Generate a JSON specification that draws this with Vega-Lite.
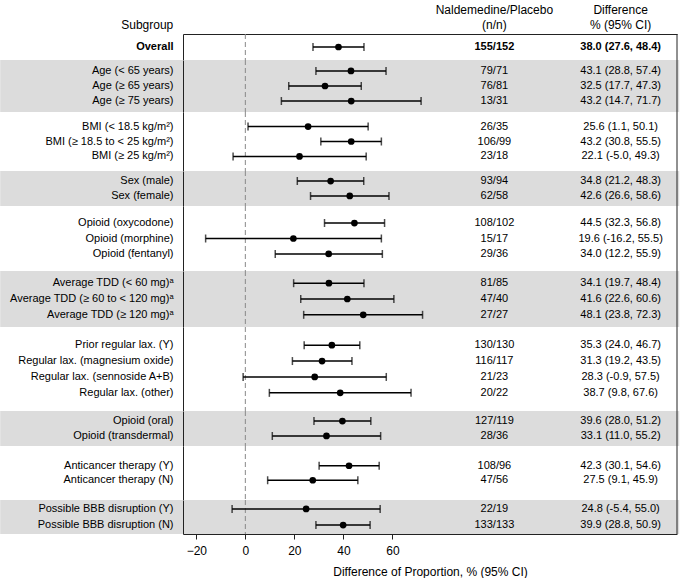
{
"$schema":"https://vega.github.io/schema/vega-lite/v6.json",
"padding":0,
"spacing":0,
"bounds":"flush",
"resolve":{"scale":{"x":"independent","y":"independent"}},
"config":{"view":{"stroke":null},"font":"Liberation Sans","axis":{"labelFont":"Liberation Sans","titleFont":"Liberation Sans","grid":false},"axisY":{"ticks":false,"labelPadding":10,"labelFontSize":11,"labelColor":"black","labelLimit":400,"domainColor":"#222"}},
"datasets":{"rows":[
{"g":"overall","label":"Overall","nn":"155/152","est":38.0,"lo":27.6,"hi":48.4,"ci":"38.0 (27.6, 48.4)"},
{"g":"age","label":"Age (< 65 years)","nn":"79/71","est":43.1,"lo":28.8,"hi":57.4,"ci":"43.1 (28.8, 57.4)"},
{"g":"age","label":"Age (≥ 65 years)","nn":"76/81","est":32.5,"lo":17.7,"hi":47.3,"ci":"32.5 (17.7, 47.3)"},
{"g":"age","label":"Age (≥ 75 years)","nn":"13/31","est":43.2,"lo":14.7,"hi":71.7,"ci":"43.2 (14.7, 71.7)"},
{"g":"bmi","label":"BMI (< 18.5 kg/m²)","nn":"26/35","est":25.6,"lo":1.1,"hi":50.1,"ci":"25.6 (1.1, 50.1)"},
{"g":"bmi","label":"BMI (≥ 18.5 to < 25 kg/m²)","nn":"106/99","est":43.2,"lo":30.8,"hi":55.5,"ci":"43.2 (30.8, 55.5)"},
{"g":"bmi","label":"BMI (≥ 25 kg/m²)","nn":"23/18","est":22.1,"lo":-5.0,"hi":49.3,"ci":"22.1 (-5.0, 49.3)"},
{"g":"sex","label":"Sex (male)","nn":"93/94","est":34.8,"lo":21.2,"hi":48.3,"ci":"34.8 (21.2, 48.3)"},
{"g":"sex","label":"Sex (female)","nn":"62/58","est":42.6,"lo":26.6,"hi":58.6,"ci":"42.6 (26.6, 58.6)"},
{"g":"opioid","label":"Opioid (oxycodone)","nn":"108/102","est":44.5,"lo":32.3,"hi":56.8,"ci":"44.5 (32.3, 56.8)"},
{"g":"opioid","label":"Opioid (morphine)","nn":"15/17","est":19.6,"lo":-16.2,"hi":55.5,"ci":"19.6 (-16.2, 55.5)"},
{"g":"opioid","label":"Opioid (fentanyl)","nn":"29/36","est":34.0,"lo":12.2,"hi":55.9,"ci":"34.0 (12.2, 55.9)"},
{"g":"tdd","label":"Average TDD (< 60 mg)ᵃ","nn":"81/85","est":34.1,"lo":19.7,"hi":48.4,"ci":"34.1 (19.7, 48.4)"},
{"g":"tdd","label":"Average TDD (≥ 60 to < 120 mg)ᵃ","nn":"47/40","est":41.6,"lo":22.6,"hi":60.6,"ci":"41.6 (22.6, 60.6)"},
{"g":"tdd","label":"Average TDD (≥ 120 mg)ᵃ","nn":"27/27","est":48.1,"lo":23.8,"hi":72.3,"ci":"48.1 (23.8, 72.3)"},
{"g":"lax","label":"Prior regular lax. (Y)","nn":"130/130","est":35.3,"lo":24.0,"hi":46.7,"ci":"35.3 (24.0, 46.7)"},
{"g":"lax","label":"Regular lax. (magnesium oxide)","nn":"116/117","est":31.3,"lo":19.2,"hi":43.5,"ci":"31.3 (19.2, 43.5)"},
{"g":"lax","label":"Regular lax. (sennoside A+B)","nn":"21/23","est":28.3,"lo":-0.9,"hi":57.5,"ci":"28.3 (-0.9, 57.5)"},
{"g":"lax","label":"Regular lax. (other)","nn":"20/22","est":38.7,"lo":9.8,"hi":67.6,"ci":"38.7 (9.8, 67.6)"},
{"g":"route","label":"Opioid (oral)","nn":"127/119","est":39.6,"lo":28.0,"hi":51.2,"ci":"39.6 (28.0, 51.2)"},
{"g":"route","label":"Opioid (transdermal)","nn":"28/36","est":33.1,"lo":11.0,"hi":55.2,"ci":"33.1 (11.0, 55.2)"},
{"g":"anti","label":"Anticancer therapy (Y)","nn":"108/96","est":42.3,"lo":30.1,"hi":54.6,"ci":"42.3 (30.1, 54.6)"},
{"g":"anti","label":"Anticancer therapy (N)","nn":"47/56","est":27.5,"lo":9.1,"hi":45.9,"ci":"27.5 (9.1, 45.9)"},
{"g":"bbb","label":"Possible BBB disruption (Y)","nn":"22/19","est":24.8,"lo":-5.4,"hi":55.0,"ci":"24.8 (-5.4, 55.0)"},
{"g":"bbb","label":"Possible BBB disruption (N)","nn":"133/133","est":39.9,"lo":28.8,"hi":50.9,"ci":"39.9 (28.8, 50.9)"}
]},
"vconcat":[
{"width":494,"height":34,"data":{"values":[{}]},"layer":[
 {"mark":{"type":"text","fontSize":12,"lineHeight":15,"dy":-7,"color":"black","text":["Naldemedine/Placebo","(n/n)"]},"encoding":{"x":{"datum":101.6,"type":"quantitative","scale":{"domain":[-25.43,176.1],"nice":false,"zero":false},"axis":null}}},
 {"mark":{"type":"text","fontSize":12,"lineHeight":15,"dy":-7,"color":"black","text":["Difference","% (95% CI)"]},"encoding":{"x":{"datum":153.1,"type":"quantitative","scale":{"domain":[-25.43,176.1],"nice":false,"zero":false},"axis":null}}},
 {"mark":{"type":"text","fontSize":12,"color":"black","align":"right","dy":8,"text":"Subgroup"},"encoding":{"x":{"datum":-29.4,"type":"quantitative","scale":{"domain":[-25.43,176.1],"nice":false,"zero":false},"axis":null}}}
]},
{"width":494,"height":26,"data":{"name":"rows"},"transform":[{"filter":"datum.g=='overall'"}],"layer":[
 {"data":{"values":[{}]},"mark":{"type":"rule","color":"#888","strokeDash":[5,3]},"encoding":{"x":{"datum":0,"type":"quantitative","scale":{"domain":[-25.43,176.1],"nice":false,"zero":false},"axis":{"orient":"top","ticks":false,"labels":false,"title":null,"domainColor":"#222","grid":false}}}},
 {"data":{"values":[{}]},"mark":{"type":"rule","color":"#222"},"encoding":{"x":{"datum":176.1,"type":"quantitative","scale":{"domain":[-25.43,176.1],"nice":false,"zero":false},"axis":{"orient":"top","ticks":false,"labels":false,"title":null,"domainColor":"#222","grid":false}}}},
 {"mark":{"type":"rule","color":"black","strokeWidth":1.5},"encoding":{"y":{"field":"label","type":"nominal","sort":null,"title":null,"scale":{"paddingInner":0,"paddingOuter":0},"axis":{"labelFontWeight":"bold"}},"x":{"field":"lo","type":"quantitative","scale":{"domain":[-25.43,176.1],"nice":false,"zero":false},"axis":{"orient":"top","ticks":false,"labels":false,"title":null,"domainColor":"#222","grid":false}},"x2":{"field":"hi"}}},
 {"mark":{"type":"tick","color":"black","thickness":1.5,"size":8},"encoding":{"y":{"field":"label","type":"nominal","sort":null,"title":null,"axis":{"labelFontWeight":"bold"}},"x":{"field":"lo","type":"quantitative","scale":{"domain":[-25.43,176.1],"nice":false,"zero":false},"axis":{"orient":"top","ticks":false,"labels":false,"title":null,"domainColor":"#222","grid":false}}}},
 {"mark":{"type":"tick","color":"black","thickness":1.5,"size":8},"encoding":{"y":{"field":"label","type":"nominal","sort":null,"title":null,"axis":{"labelFontWeight":"bold"}},"x":{"field":"hi","type":"quantitative","scale":{"domain":[-25.43,176.1],"nice":false,"zero":false},"axis":{"orient":"top","ticks":false,"labels":false,"title":null,"domainColor":"#222","grid":false}}}},
 {"mark":{"type":"point","filled":true,"color":"black","opacity":1,"size":45},"encoding":{"y":{"field":"label","type":"nominal","sort":null,"title":null,"axis":{"labelFontWeight":"bold"}},"x":{"field":"est","type":"quantitative","scale":{"domain":[-25.43,176.1],"nice":false,"zero":false},"axis":{"orient":"top","ticks":false,"labels":false,"title":null,"domainColor":"#222","grid":false}}}},
 {"mark":{"type":"text","fontSize":11,"fontWeight":"bold","color":"black"},"encoding":{"y":{"field":"label","type":"nominal","sort":null,"title":null,"axis":{"labelFontWeight":"bold"}},"x":{"datum":101.6,"type":"quantitative","scale":{"domain":[-25.43,176.1],"nice":false,"zero":false},"axis":{"orient":"top","ticks":false,"labels":false,"title":null,"domainColor":"#222","grid":false}},"text":{"field":"nn"}}},
 {"mark":{"type":"text","fontSize":11,"fontWeight":"bold","color":"black"},"encoding":{"y":{"field":"label","type":"nominal","sort":null,"title":null,"axis":{"labelFontWeight":"bold"}},"x":{"datum":153.1,"type":"quantitative","scale":{"domain":[-25.43,176.1],"nice":false,"zero":false},"axis":{"orient":"top","ticks":false,"labels":false,"title":null,"domainColor":"#222","grid":false}},"text":{"field":"ci"}}}
]},
{"width":494,"height":52,"data":{"name":"rows"},"transform":[{"filter":"datum.g=='age'"}],"layer":[
 {"data":{"values":[{}]},"mark":{"type":"rect","color":"#dcdcdc"},"encoding":{"x":{"datum":-100,"type":"quantitative","scale":{"domain":[-25.43,176.1],"nice":false,"zero":false},"axis":null},"x2":{"datum":177}}},
 {"data":{"values":[{}]},"mark":{"type":"rule","color":"#888","strokeDash":[5,3]},"encoding":{"x":{"datum":0,"type":"quantitative","scale":{"domain":[-25.43,176.1],"nice":false,"zero":false},"axis":null}}},
 {"data":{"values":[{}]},"mark":{"type":"rule","color":"#222"},"encoding":{"x":{"datum":176.1,"type":"quantitative","scale":{"domain":[-25.43,176.1],"nice":false,"zero":false},"axis":null}}},
 {"mark":{"type":"rule","color":"black","strokeWidth":1.5},"encoding":{"y":{"field":"label","type":"nominal","sort":null,"title":null,"axis":{"zindex":1},"scale":{"paddingInner":0,"paddingOuter":0.23}},"x":{"field":"lo","type":"quantitative","scale":{"domain":[-25.43,176.1],"nice":false,"zero":false},"axis":null},"x2":{"field":"hi"}}},
 {"mark":{"type":"tick","color":"black","thickness":1.5,"size":8},"encoding":{"y":{"field":"label","type":"nominal","sort":null,"title":null,"axis":{"zindex":1}},"x":{"field":"lo","type":"quantitative","scale":{"domain":[-25.43,176.1],"nice":false,"zero":false},"axis":null}}},
 {"mark":{"type":"tick","color":"black","thickness":1.5,"size":8},"encoding":{"y":{"field":"label","type":"nominal","sort":null,"title":null,"axis":{"zindex":1}},"x":{"field":"hi","type":"quantitative","scale":{"domain":[-25.43,176.1],"nice":false,"zero":false},"axis":null}}},
 {"mark":{"type":"point","filled":true,"color":"black","opacity":1,"size":45},"encoding":{"y":{"field":"label","type":"nominal","sort":null,"title":null,"axis":{"zindex":1}},"x":{"field":"est","type":"quantitative","scale":{"domain":[-25.43,176.1],"nice":false,"zero":false},"axis":null}}},
 {"mark":{"type":"text","fontSize":11,"color":"black"},"encoding":{"y":{"field":"label","type":"nominal","sort":null,"title":null,"axis":{"zindex":1}},"x":{"datum":101.6,"type":"quantitative","scale":{"domain":[-25.43,176.1],"nice":false,"zero":false},"axis":null},"text":{"field":"nn"}}},
 {"mark":{"type":"text","fontSize":11,"color":"black"},"encoding":{"y":{"field":"label","type":"nominal","sort":null,"title":null,"axis":{"zindex":1}},"x":{"datum":153.1,"type":"quantitative","scale":{"domain":[-25.43,176.1],"nice":false,"zero":false},"axis":null},"text":{"field":"ci"}}}
]},
{"width":494,"height":59,"data":{"name":"rows"},"transform":[{"filter":"datum.g=='bmi'"}],"layer":[
 {"data":{"values":[{}]},"mark":{"type":"rule","color":"#888","strokeDash":[5,3]},"encoding":{"x":{"datum":0,"type":"quantitative","scale":{"domain":[-25.43,176.1],"nice":false,"zero":false},"axis":null}}},
 {"data":{"values":[{}]},"mark":{"type":"rule","color":"#222"},"encoding":{"x":{"datum":176.1,"type":"quantitative","scale":{"domain":[-25.43,176.1],"nice":false,"zero":false},"axis":null}}},
 {"mark":{"type":"rule","color":"black","strokeWidth":1.5},"encoding":{"y":{"field":"label","type":"nominal","sort":null,"title":null,"scale":{"paddingInner":0,"paddingOuter":0.48}},"x":{"field":"lo","type":"quantitative","scale":{"domain":[-25.43,176.1],"nice":false,"zero":false},"axis":null},"x2":{"field":"hi"}}},
 {"mark":{"type":"tick","color":"black","thickness":1.5,"size":8},"encoding":{"y":{"field":"label","type":"nominal","sort":null,"title":null},"x":{"field":"lo","type":"quantitative","scale":{"domain":[-25.43,176.1],"nice":false,"zero":false},"axis":null}}},
 {"mark":{"type":"tick","color":"black","thickness":1.5,"size":8},"encoding":{"y":{"field":"label","type":"nominal","sort":null,"title":null},"x":{"field":"hi","type":"quantitative","scale":{"domain":[-25.43,176.1],"nice":false,"zero":false},"axis":null}}},
 {"mark":{"type":"point","filled":true,"color":"black","opacity":1,"size":45},"encoding":{"y":{"field":"label","type":"nominal","sort":null,"title":null},"x":{"field":"est","type":"quantitative","scale":{"domain":[-25.43,176.1],"nice":false,"zero":false},"axis":null}}},
 {"mark":{"type":"text","fontSize":11,"color":"black"},"encoding":{"y":{"field":"label","type":"nominal","sort":null,"title":null},"x":{"datum":101.6,"type":"quantitative","scale":{"domain":[-25.43,176.1],"nice":false,"zero":false},"axis":null},"text":{"field":"nn"}}},
 {"mark":{"type":"text","fontSize":11,"color":"black"},"encoding":{"y":{"field":"label","type":"nominal","sort":null,"title":null},"x":{"datum":153.1,"type":"quantitative","scale":{"domain":[-25.43,176.1],"nice":false,"zero":false},"axis":null},"text":{"field":"ci"}}}
]},
{"width":494,"height":35,"data":{"name":"rows"},"transform":[{"filter":"datum.g=='sex'"}],"layer":[
 {"data":{"values":[{}]},"mark":{"type":"rect","color":"#dcdcdc"},"encoding":{"x":{"datum":-100,"type":"quantitative","scale":{"domain":[-25.43,176.1],"nice":false,"zero":false},"axis":null},"x2":{"datum":177}}},
 {"data":{"values":[{}]},"mark":{"type":"rule","color":"#888","strokeDash":[5,3]},"encoding":{"x":{"datum":0,"type":"quantitative","scale":{"domain":[-25.43,176.1],"nice":false,"zero":false},"axis":null}}},
 {"data":{"values":[{}]},"mark":{"type":"rule","color":"#222"},"encoding":{"x":{"datum":176.1,"type":"quantitative","scale":{"domain":[-25.43,176.1],"nice":false,"zero":false},"axis":null}}},
 {"mark":{"type":"rule","color":"black","strokeWidth":1.5},"encoding":{"y":{"field":"label","type":"nominal","sort":null,"title":null,"axis":{"zindex":1},"scale":{"paddingInner":0,"paddingOuter":0.17}},"x":{"field":"lo","type":"quantitative","scale":{"domain":[-25.43,176.1],"nice":false,"zero":false},"axis":null},"x2":{"field":"hi"}}},
 {"mark":{"type":"tick","color":"black","thickness":1.5,"size":8},"encoding":{"y":{"field":"label","type":"nominal","sort":null,"title":null,"axis":{"zindex":1}},"x":{"field":"lo","type":"quantitative","scale":{"domain":[-25.43,176.1],"nice":false,"zero":false},"axis":null}}},
 {"mark":{"type":"tick","color":"black","thickness":1.5,"size":8},"encoding":{"y":{"field":"label","type":"nominal","sort":null,"title":null,"axis":{"zindex":1}},"x":{"field":"hi","type":"quantitative","scale":{"domain":[-25.43,176.1],"nice":false,"zero":false},"axis":null}}},
 {"mark":{"type":"point","filled":true,"color":"black","opacity":1,"size":45},"encoding":{"y":{"field":"label","type":"nominal","sort":null,"title":null,"axis":{"zindex":1}},"x":{"field":"est","type":"quantitative","scale":{"domain":[-25.43,176.1],"nice":false,"zero":false},"axis":null}}},
 {"mark":{"type":"text","fontSize":11,"color":"black"},"encoding":{"y":{"field":"label","type":"nominal","sort":null,"title":null,"axis":{"zindex":1}},"x":{"datum":101.6,"type":"quantitative","scale":{"domain":[-25.43,176.1],"nice":false,"zero":false},"axis":null},"text":{"field":"nn"}}},
 {"mark":{"type":"text","fontSize":11,"color":"black"},"encoding":{"y":{"field":"label","type":"nominal","sort":null,"title":null,"axis":{"zindex":1}},"x":{"datum":153.1,"type":"quantitative","scale":{"domain":[-25.43,176.1],"nice":false,"zero":false},"axis":null},"text":{"field":"ci"}}}
]},
{"width":494,"height":65,"data":{"name":"rows"},"transform":[{"filter":"datum.g=='opioid'"}],"layer":[
 {"data":{"values":[{}]},"mark":{"type":"rule","color":"#888","strokeDash":[5,3]},"encoding":{"x":{"datum":0,"type":"quantitative","scale":{"domain":[-25.43,176.1],"nice":false,"zero":false},"axis":null}}},
 {"data":{"values":[{}]},"mark":{"type":"rule","color":"#222"},"encoding":{"x":{"datum":176.1,"type":"quantitative","scale":{"domain":[-25.43,176.1],"nice":false,"zero":false},"axis":null}}},
 {"mark":{"type":"rule","color":"black","strokeWidth":1.5},"encoding":{"y":{"field":"label","type":"nominal","sort":null,"title":null,"scale":{"paddingInner":0,"paddingOuter":0.6}},"x":{"field":"lo","type":"quantitative","scale":{"domain":[-25.43,176.1],"nice":false,"zero":false},"axis":null},"x2":{"field":"hi"}}},
 {"mark":{"type":"tick","color":"black","thickness":1.5,"size":8},"encoding":{"y":{"field":"label","type":"nominal","sort":null,"title":null},"x":{"field":"lo","type":"quantitative","scale":{"domain":[-25.43,176.1],"nice":false,"zero":false},"axis":null}}},
 {"mark":{"type":"tick","color":"black","thickness":1.5,"size":8},"encoding":{"y":{"field":"label","type":"nominal","sort":null,"title":null},"x":{"field":"hi","type":"quantitative","scale":{"domain":[-25.43,176.1],"nice":false,"zero":false},"axis":null}}},
 {"mark":{"type":"point","filled":true,"color":"black","opacity":1,"size":45},"encoding":{"y":{"field":"label","type":"nominal","sort":null,"title":null},"x":{"field":"est","type":"quantitative","scale":{"domain":[-25.43,176.1],"nice":false,"zero":false},"axis":null}}},
 {"mark":{"type":"text","fontSize":11,"color":"black"},"encoding":{"y":{"field":"label","type":"nominal","sort":null,"title":null},"x":{"datum":101.6,"type":"quantitative","scale":{"domain":[-25.43,176.1],"nice":false,"zero":false},"axis":null},"text":{"field":"nn"}}},
 {"mark":{"type":"text","fontSize":11,"color":"black"},"encoding":{"y":{"field":"label","type":"nominal","sort":null,"title":null},"x":{"datum":153.1,"type":"quantitative","scale":{"domain":[-25.43,176.1],"nice":false,"zero":false},"axis":null},"text":{"field":"ci"}}}
]},
{"width":494,"height":56,"data":{"name":"rows"},"transform":[{"filter":"datum.g=='tdd'"}],"layer":[
 {"data":{"values":[{}]},"mark":{"type":"rect","color":"#dcdcdc"},"encoding":{"x":{"datum":-100,"type":"quantitative","scale":{"domain":[-25.43,176.1],"nice":false,"zero":false},"axis":null},"x2":{"datum":177}}},
 {"data":{"values":[{}]},"mark":{"type":"rule","color":"#888","strokeDash":[5,3]},"encoding":{"x":{"datum":0,"type":"quantitative","scale":{"domain":[-25.43,176.1],"nice":false,"zero":false},"axis":null}}},
 {"data":{"values":[{}]},"mark":{"type":"rule","color":"#222"},"encoding":{"x":{"datum":176.1,"type":"quantitative","scale":{"domain":[-25.43,176.1],"nice":false,"zero":false},"axis":null}}},
 {"mark":{"type":"rule","color":"black","strokeWidth":1.5},"encoding":{"y":{"field":"label","type":"nominal","sort":null,"title":null,"axis":{"zindex":1},"scale":{"paddingInner":0,"paddingOuter":0.27}},"x":{"field":"lo","type":"quantitative","scale":{"domain":[-25.43,176.1],"nice":false,"zero":false},"axis":null},"x2":{"field":"hi"}}},
 {"mark":{"type":"tick","color":"black","thickness":1.5,"size":8},"encoding":{"y":{"field":"label","type":"nominal","sort":null,"title":null,"axis":{"zindex":1}},"x":{"field":"lo","type":"quantitative","scale":{"domain":[-25.43,176.1],"nice":false,"zero":false},"axis":null}}},
 {"mark":{"type":"tick","color":"black","thickness":1.5,"size":8},"encoding":{"y":{"field":"label","type":"nominal","sort":null,"title":null,"axis":{"zindex":1}},"x":{"field":"hi","type":"quantitative","scale":{"domain":[-25.43,176.1],"nice":false,"zero":false},"axis":null}}},
 {"mark":{"type":"point","filled":true,"color":"black","opacity":1,"size":45},"encoding":{"y":{"field":"label","type":"nominal","sort":null,"title":null,"axis":{"zindex":1}},"x":{"field":"est","type":"quantitative","scale":{"domain":[-25.43,176.1],"nice":false,"zero":false},"axis":null}}},
 {"mark":{"type":"text","fontSize":11,"color":"black"},"encoding":{"y":{"field":"label","type":"nominal","sort":null,"title":null,"axis":{"zindex":1}},"x":{"datum":101.6,"type":"quantitative","scale":{"domain":[-25.43,176.1],"nice":false,"zero":false},"axis":null},"text":{"field":"nn"}}},
 {"mark":{"type":"text","fontSize":11,"color":"black"},"encoding":{"y":{"field":"label","type":"nominal","sort":null,"title":null,"axis":{"zindex":1}},"x":{"datum":153.1,"type":"quantitative","scale":{"domain":[-25.43,176.1],"nice":false,"zero":false},"axis":null},"text":{"field":"ci"}}}
]},
{"width":494,"height":84,"data":{"name":"rows"},"transform":[{"filter":"datum.g=='lax'"}],"layer":[
 {"data":{"values":[{}]},"mark":{"type":"rule","color":"#888","strokeDash":[5,3]},"encoding":{"x":{"datum":0,"type":"quantitative","scale":{"domain":[-25.43,176.1],"nice":false,"zero":false},"axis":null}}},
 {"data":{"values":[{}]},"mark":{"type":"rule","color":"#222"},"encoding":{"x":{"datum":176.1,"type":"quantitative","scale":{"domain":[-25.43,176.1],"nice":false,"zero":false},"axis":null}}},
 {"mark":{"type":"rule","color":"black","strokeWidth":1.5},"encoding":{"y":{"field":"label","type":"nominal","sort":null,"title":null,"scale":{"paddingInner":0,"paddingOuter":0.64}},"x":{"field":"lo","type":"quantitative","scale":{"domain":[-25.43,176.1],"nice":false,"zero":false},"axis":null},"x2":{"field":"hi"}}},
 {"mark":{"type":"tick","color":"black","thickness":1.5,"size":8},"encoding":{"y":{"field":"label","type":"nominal","sort":null,"title":null},"x":{"field":"lo","type":"quantitative","scale":{"domain":[-25.43,176.1],"nice":false,"zero":false},"axis":null}}},
 {"mark":{"type":"tick","color":"black","thickness":1.5,"size":8},"encoding":{"y":{"field":"label","type":"nominal","sort":null,"title":null},"x":{"field":"hi","type":"quantitative","scale":{"domain":[-25.43,176.1],"nice":false,"zero":false},"axis":null}}},
 {"mark":{"type":"point","filled":true,"color":"black","opacity":1,"size":45},"encoding":{"y":{"field":"label","type":"nominal","sort":null,"title":null},"x":{"field":"est","type":"quantitative","scale":{"domain":[-25.43,176.1],"nice":false,"zero":false},"axis":null}}},
 {"mark":{"type":"text","fontSize":11,"color":"black"},"encoding":{"y":{"field":"label","type":"nominal","sort":null,"title":null},"x":{"datum":101.6,"type":"quantitative","scale":{"domain":[-25.43,176.1],"nice":false,"zero":false},"axis":null},"text":{"field":"nn"}}},
 {"mark":{"type":"text","fontSize":11,"color":"black"},"encoding":{"y":{"field":"label","type":"nominal","sort":null,"title":null},"x":{"datum":153.1,"type":"quantitative","scale":{"domain":[-25.43,176.1],"nice":false,"zero":false},"axis":null},"text":{"field":"ci"}}}
]},
{"width":494,"height":35,"data":{"name":"rows"},"transform":[{"filter":"datum.g=='route'"}],"layer":[
 {"data":{"values":[{}]},"mark":{"type":"rect","color":"#dcdcdc"},"encoding":{"x":{"datum":-100,"type":"quantitative","scale":{"domain":[-25.43,176.1],"nice":false,"zero":false},"axis":null},"x2":{"datum":177}}},
 {"data":{"values":[{}]},"mark":{"type":"rule","color":"#888","strokeDash":[5,3]},"encoding":{"x":{"datum":0,"type":"quantitative","scale":{"domain":[-25.43,176.1],"nice":false,"zero":false},"axis":null}}},
 {"data":{"values":[{}]},"mark":{"type":"rule","color":"#222"},"encoding":{"x":{"datum":176.1,"type":"quantitative","scale":{"domain":[-25.43,176.1],"nice":false,"zero":false},"axis":null}}},
 {"mark":{"type":"rule","color":"black","strokeWidth":1.5},"encoding":{"y":{"field":"label","type":"nominal","sort":null,"title":null,"axis":{"zindex":1},"scale":{"paddingInner":0,"paddingOuter":0.17}},"x":{"field":"lo","type":"quantitative","scale":{"domain":[-25.43,176.1],"nice":false,"zero":false},"axis":null},"x2":{"field":"hi"}}},
 {"mark":{"type":"tick","color":"black","thickness":1.5,"size":8},"encoding":{"y":{"field":"label","type":"nominal","sort":null,"title":null,"axis":{"zindex":1}},"x":{"field":"lo","type":"quantitative","scale":{"domain":[-25.43,176.1],"nice":false,"zero":false},"axis":null}}},
 {"mark":{"type":"tick","color":"black","thickness":1.5,"size":8},"encoding":{"y":{"field":"label","type":"nominal","sort":null,"title":null,"axis":{"zindex":1}},"x":{"field":"hi","type":"quantitative","scale":{"domain":[-25.43,176.1],"nice":false,"zero":false},"axis":null}}},
 {"mark":{"type":"point","filled":true,"color":"black","opacity":1,"size":45},"encoding":{"y":{"field":"label","type":"nominal","sort":null,"title":null,"axis":{"zindex":1}},"x":{"field":"est","type":"quantitative","scale":{"domain":[-25.43,176.1],"nice":false,"zero":false},"axis":null}}},
 {"mark":{"type":"text","fontSize":11,"color":"black"},"encoding":{"y":{"field":"label","type":"nominal","sort":null,"title":null,"axis":{"zindex":1}},"x":{"datum":101.6,"type":"quantitative","scale":{"domain":[-25.43,176.1],"nice":false,"zero":false},"axis":null},"text":{"field":"nn"}}},
 {"mark":{"type":"text","fontSize":11,"color":"black"},"encoding":{"y":{"field":"label","type":"nominal","sort":null,"title":null,"axis":{"zindex":1}},"x":{"datum":153.1,"type":"quantitative","scale":{"domain":[-25.43,176.1],"nice":false,"zero":false},"axis":null},"text":{"field":"ci"}}}
]},
{"width":494,"height":54,"data":{"name":"rows"},"transform":[{"filter":"datum.g=='anti'"}],"layer":[
 {"data":{"values":[{}]},"mark":{"type":"rule","color":"#888","strokeDash":[5,3]},"encoding":{"x":{"datum":0,"type":"quantitative","scale":{"domain":[-25.43,176.1],"nice":false,"zero":false},"axis":null}}},
 {"data":{"values":[{}]},"mark":{"type":"rule","color":"#222"},"encoding":{"x":{"datum":176.1,"type":"quantitative","scale":{"domain":[-25.43,176.1],"nice":false,"zero":false},"axis":null}}},
 {"mark":{"type":"rule","color":"black","strokeWidth":1.5},"encoding":{"y":{"field":"label","type":"nominal","sort":null,"title":null,"scale":{"paddingInner":0,"paddingOuter":0.86}},"x":{"field":"lo","type":"quantitative","scale":{"domain":[-25.43,176.1],"nice":false,"zero":false},"axis":null},"x2":{"field":"hi"}}},
 {"mark":{"type":"tick","color":"black","thickness":1.5,"size":8},"encoding":{"y":{"field":"label","type":"nominal","sort":null,"title":null},"x":{"field":"lo","type":"quantitative","scale":{"domain":[-25.43,176.1],"nice":false,"zero":false},"axis":null}}},
 {"mark":{"type":"tick","color":"black","thickness":1.5,"size":8},"encoding":{"y":{"field":"label","type":"nominal","sort":null,"title":null},"x":{"field":"hi","type":"quantitative","scale":{"domain":[-25.43,176.1],"nice":false,"zero":false},"axis":null}}},
 {"mark":{"type":"point","filled":true,"color":"black","opacity":1,"size":45},"encoding":{"y":{"field":"label","type":"nominal","sort":null,"title":null},"x":{"field":"est","type":"quantitative","scale":{"domain":[-25.43,176.1],"nice":false,"zero":false},"axis":null}}},
 {"mark":{"type":"text","fontSize":11,"color":"black"},"encoding":{"y":{"field":"label","type":"nominal","sort":null,"title":null},"x":{"datum":101.6,"type":"quantitative","scale":{"domain":[-25.43,176.1],"nice":false,"zero":false},"axis":null},"text":{"field":"nn"}}},
 {"mark":{"type":"text","fontSize":11,"color":"black"},"encoding":{"y":{"field":"label","type":"nominal","sort":null,"title":null},"x":{"datum":153.1,"type":"quantitative","scale":{"domain":[-25.43,176.1],"nice":false,"zero":false},"axis":null},"text":{"field":"ci"}}}
]},
{"width":494,"height":34,"data":{"name":"rows"},"transform":[{"filter":"datum.g=='bbb'"}],"layer":[
 {"data":{"values":[{}]},"mark":{"type":"rect","color":"#dcdcdc"},"encoding":{"x":{"datum":-100,"type":"quantitative","scale":{"domain":[-25.43,176.1],"nice":false,"zero":false},"axis":{"orient":"bottom","values":[-20,0,20,40,60],"title":"Difference of Proportion, % (95% CI)","domainColor":"#222","tickColor":"#222","tickSize":5,"labelFontSize":12,"labelColor":"black","labelPadding":6.5,"titleFontSize":12,"titleFontWeight":"normal","titleColor":"black","titlePadding":10,"grid":false,"zindex":1}},"x2":{"datum":177}}},
 {"data":{"values":[{}]},"mark":{"type":"rule","color":"#888","strokeDash":[5,3]},"encoding":{"x":{"datum":0,"type":"quantitative","scale":{"domain":[-25.43,176.1],"nice":false,"zero":false},"axis":{"orient":"bottom","values":[-20,0,20,40,60],"title":"Difference of Proportion, % (95% CI)","domainColor":"#222","tickColor":"#222","tickSize":5,"labelFontSize":12,"labelColor":"black","labelPadding":6.5,"titleFontSize":12,"titleFontWeight":"normal","titleColor":"black","titlePadding":10,"grid":false,"zindex":1}}}},
 {"data":{"values":[{}]},"mark":{"type":"rule","color":"#222"},"encoding":{"x":{"datum":176.1,"type":"quantitative","scale":{"domain":[-25.43,176.1],"nice":false,"zero":false},"axis":{"orient":"bottom","values":[-20,0,20,40,60],"title":"Difference of Proportion, % (95% CI)","domainColor":"#222","tickColor":"#222","tickSize":5,"labelFontSize":12,"labelColor":"black","labelPadding":6.5,"titleFontSize":12,"titleFontWeight":"normal","titleColor":"black","titlePadding":10,"grid":false,"zindex":1}}}},
 {"mark":{"type":"rule","color":"black","strokeWidth":1.5},"encoding":{"y":{"field":"label","type":"nominal","sort":null,"title":null,"axis":{"zindex":1},"scale":{"paddingInner":0,"paddingOuter":0.05}},"x":{"field":"lo","type":"quantitative","scale":{"domain":[-25.43,176.1],"nice":false,"zero":false},"axis":{"orient":"bottom","values":[-20,0,20,40,60],"title":"Difference of Proportion, % (95% CI)","domainColor":"#222","tickColor":"#222","tickSize":5,"labelFontSize":12,"labelColor":"black","labelPadding":6.5,"titleFontSize":12,"titleFontWeight":"normal","titleColor":"black","titlePadding":10,"grid":false,"zindex":1}},"x2":{"field":"hi"}}},
 {"mark":{"type":"tick","color":"black","thickness":1.5,"size":8},"encoding":{"y":{"field":"label","type":"nominal","sort":null,"title":null,"axis":{"zindex":1}},"x":{"field":"lo","type":"quantitative","scale":{"domain":[-25.43,176.1],"nice":false,"zero":false},"axis":{"orient":"bottom","values":[-20,0,20,40,60],"title":"Difference of Proportion, % (95% CI)","domainColor":"#222","tickColor":"#222","tickSize":5,"labelFontSize":12,"labelColor":"black","labelPadding":6.5,"titleFontSize":12,"titleFontWeight":"normal","titleColor":"black","titlePadding":10,"grid":false,"zindex":1}}}},
 {"mark":{"type":"tick","color":"black","thickness":1.5,"size":8},"encoding":{"y":{"field":"label","type":"nominal","sort":null,"title":null,"axis":{"zindex":1}},"x":{"field":"hi","type":"quantitative","scale":{"domain":[-25.43,176.1],"nice":false,"zero":false},"axis":{"orient":"bottom","values":[-20,0,20,40,60],"title":"Difference of Proportion, % (95% CI)","domainColor":"#222","tickColor":"#222","tickSize":5,"labelFontSize":12,"labelColor":"black","labelPadding":6.5,"titleFontSize":12,"titleFontWeight":"normal","titleColor":"black","titlePadding":10,"grid":false,"zindex":1}}}},
 {"mark":{"type":"point","filled":true,"color":"black","opacity":1,"size":45},"encoding":{"y":{"field":"label","type":"nominal","sort":null,"title":null,"axis":{"zindex":1}},"x":{"field":"est","type":"quantitative","scale":{"domain":[-25.43,176.1],"nice":false,"zero":false},"axis":{"orient":"bottom","values":[-20,0,20,40,60],"title":"Difference of Proportion, % (95% CI)","domainColor":"#222","tickColor":"#222","tickSize":5,"labelFontSize":12,"labelColor":"black","labelPadding":6.5,"titleFontSize":12,"titleFontWeight":"normal","titleColor":"black","titlePadding":10,"grid":false,"zindex":1}}}},
 {"mark":{"type":"text","fontSize":11,"color":"black"},"encoding":{"y":{"field":"label","type":"nominal","sort":null,"title":null,"axis":{"zindex":1}},"x":{"datum":101.6,"type":"quantitative","scale":{"domain":[-25.43,176.1],"nice":false,"zero":false},"axis":{"orient":"bottom","values":[-20,0,20,40,60],"title":"Difference of Proportion, % (95% CI)","domainColor":"#222","tickColor":"#222","tickSize":5,"labelFontSize":12,"labelColor":"black","labelPadding":6.5,"titleFontSize":12,"titleFontWeight":"normal","titleColor":"black","titlePadding":10,"grid":false,"zindex":1}},"text":{"field":"nn"}}},
 {"mark":{"type":"text","fontSize":11,"color":"black"},"encoding":{"y":{"field":"label","type":"nominal","sort":null,"title":null,"axis":{"zindex":1}},"x":{"datum":153.1,"type":"quantitative","scale":{"domain":[-25.43,176.1],"nice":false,"zero":false},"axis":{"orient":"bottom","values":[-20,0,20,40,60],"title":"Difference of Proportion, % (95% CI)","domainColor":"#222","tickColor":"#222","tickSize":5,"labelFontSize":12,"labelColor":"black","labelPadding":6.5,"titleFontSize":12,"titleFontWeight":"normal","titleColor":"black","titlePadding":10,"grid":false,"zindex":1}},"text":{"field":"ci"}}}
]}
]
}
